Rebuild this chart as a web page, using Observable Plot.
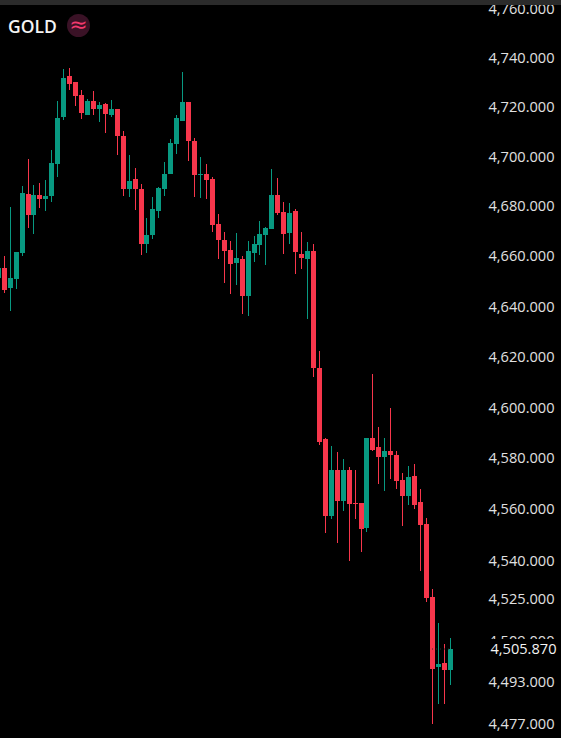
<!DOCTYPE html>
<html>
<head>
<meta charset="utf-8">
<script src="https://cdn.jsdelivr.net/npm/d3@7"></script>
<script src="https://cdn.jsdelivr.net/npm/@observablehq/plot@0.6"></script>
<style>
html,body{margin:0;padding:0;background:#000;overflow:hidden}
#wrap{position:relative;width:561px;height:738px;background:#000}
#wrap svg{position:absolute;left:0;top:0;display:block}
#bar{position:absolute;left:0;top:0;width:561px;height:5px;background:#2b2b2b}
#sym{position:absolute;left:8px;top:14px;font:600 17.5px/24px "Open Sans",sans-serif;color:#f4f4f4}
#badge{position:absolute;left:67px;top:14px;width:23px;height:23px;border-radius:50%;background:#3a1226;color:#f23a6e;font:400 22px/22px "DejaVu Sans",sans-serif;text-align:center}
</style>
</head>
<body>
<div id="wrap">
<div id="chart"></div>
<div id="bar"></div>
<div id="sym">GOLD</div>
<div id="badge">≈</div>
</div>
<script>
const symbol = "GOLD";
const firstIndex = -1;
const opens = [4651.1,4655.1,4647.5,4650.7,4661.1,4685.1,4676.3,4684.7,4682.7,4683.9,4696.8,4716.1,4732.7,4729.9,4725.0,4716.9,4722.6,4719.0,4721.0,4716.9,4719.0,4708.4,4687.1,4691.1,4687.1,4664.7,4668.3,4677.9,4687.1,4693.1,4705.2,4714.5,4721.8,4706.4,4692.7,4693.1,4691.1,4672.7,4666.3,4662.3,4657.1,4658.7,4644.3,4661.1,4664.3,4668.3,4670.7,4684.7,4677.5,4669.1,4677.9,4660.7,4658.7,4661.9,4615.7,4587.4,4557.2,4575.2,4563.1,4575.2,4562.3,4562.3,4552.5,4587.8,4584.2,4580.3,4582.7,4581.1,4571.3,4565.0,4572.9,4562.7,4554.1,4525.7,4498.7,4500.2,4497.5];
const highs = [4655.1,4659.9,4679.5,4661.5,4688.3,4698.8,4688.7,4689.5,4690.7,4702.8,4722.6,4735.2,4735.6,4729.9,4726.7,4723.4,4726.3,4722.2,4721.4,4723.0,4719.0,4710.1,4700.4,4695.2,4689.1,4675.1,4683.5,4687.9,4697.6,4707.2,4716.9,4734.0,4722.2,4707.6,4699.6,4696.8,4691.9,4676.7,4669.5,4665.9,4669.1,4659.9,4665.9,4667.9,4673.9,4671.5,4694.8,4691.5,4681.5,4681.1,4678.7,4669.5,4665.5,4664.7,4622.1,4587.8,4584.6,4582.3,4579.5,4576.4,4575.2,4562.3,4587.8,4613.0,4592.1,4587.8,4599.9,4582.7,4574.0,4576.8,4577.9,4567.8,4556.4,4528.8,4515.6,4507.5,4509.9];
const lows = [4651.1,4645.5,4638.0,4647.1,4659.9,4671.1,4668.7,4679.1,4677.9,4681.5,4691.9,4714.9,4726.7,4720.2,4715.3,4716.9,4716.9,4714.1,4709.3,4716.1,4700.4,4684.3,4683.5,4678.3,4660.3,4661.1,4666.7,4675.1,4683.9,4693.1,4700.8,4714.5,4698.0,4683.5,4683.1,4682.7,4669.5,4658.7,4649.1,4645.1,4648.3,4636.8,4636.0,4657.5,4660.3,4656.3,4670.7,4676.3,4660.7,4664.7,4652.7,4654.7,4634.8,4611.8,4585.0,4550.6,4556.0,4546.7,4559.2,4539.7,4556.0,4543.2,4551.0,4582.7,4569.7,4567.0,4571.7,4567.8,4553.3,4561.5,4559.9,4535.8,4523.8,4476.8,4484.4,4484.4,4491.7];
const closes = [4655.1,4646.7,4651.1,4661.5,4685.5,4676.3,4684.7,4682.7,4683.9,4697.2,4715.7,4731.9,4729.1,4724.6,4717.7,4722.6,4719.0,4720.6,4717.3,4719.0,4708.4,4687.1,4690.3,4687.1,4664.7,4668.3,4678.7,4687.5,4693.1,4705.6,4715.7,4721.8,4706.4,4692.7,4693.1,4690.7,4672.3,4666.3,4661.9,4656.7,4659.1,4644.3,4661.9,4664.7,4668.7,4671.1,4684.7,4677.1,4668.7,4677.1,4661.5,4659.1,4661.9,4615.4,4586.2,4557.2,4575.2,4563.1,4575.2,4561.9,4561.9,4552.1,4587.8,4583.4,4580.3,4582.7,4581.1,4570.9,4565.0,4572.5,4561.5,4553.7,4525.3,4497.9,4499.8,4497.5,4505.87];
const tickValues = [4477,4493,4509,4525,4540,4560,4580,4600,4620,4640,4660,4680,4700,4720,4740,4760];
const lastPrice = 4505.87;
const upColor = "#089981";
const downColor = "#f7364b";

const candles = opens.map((o, k) => ({i: firstIndex + k, open: o, high: highs[k], low: lows[k], close: closes[k]}));
const lastI = candles[candles.length - 1].i;
const candleColor = d => d.close >= d.open ? upColor : downColor;
const fmt = d3.format(",.3f");

const chart = Plot.plot({
  width: 561, height: 738,
  marginLeft: 0, marginRight: 76, marginTop: 0, marginBottom: 0,
  style: {background: "#000", overflow: "hidden"},
  x: {type: "linear", domain: [0, 75], range: [3.75, 449.75], round: true, axis: null},
  y: {type: "log", domain: [4477, 4760], range: [723.5, 8.5], axis: null},
  marks: [
    Plot.ruleX(candles, {x: "i", y1: "low", y2: "high", stroke: candleColor, strokeWidth: 1, shapeRendering: "crispEdges"}),
    Plot.rect(candles, {x1: "i", x2: "i", insetLeft: -2, insetRight: -3, y1: "open", y2: "close", fill: candleColor, shapeRendering: "crispEdges"}),
    Plot.ruleY([lastPrice], {x1: lastI - 3, x2: lastI, stroke: "#2a2a2a", strokeWidth: 1, strokeDasharray: "1,3"}),
    Plot.axisY(tickValues, {anchor: "right", tickSize: 0, tickPadding: 3, label: null, tickFormat: fmt, fill: "#e0e0e0", fontSize: 14.6, fontWeight: 500, fontFamily: "Open Sans"}),
    Plot.ruleY([lastPrice], {stroke: "#000", strokeWidth: 20, insetLeft: 486, insetRight: -76}),
    Plot.text([lastPrice], {y: d => d, text: d => fmt(d), frameAnchor: "right", dx: 71, textAnchor: "end", fill: "#f4f4f4", fontSize: 14.6, fontWeight: 500, fontFamily: "Open Sans"})
  ]
});
document.getElementById("chart").appendChild(chart);
</script>
</body>
</html>
